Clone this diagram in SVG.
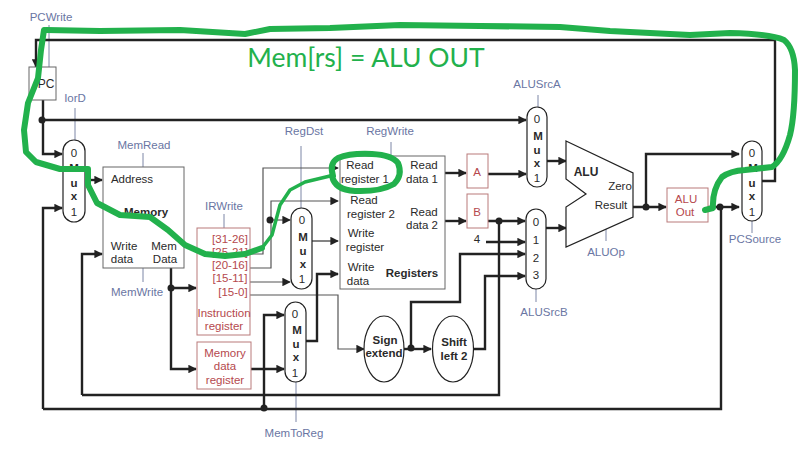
<svg xmlns="http://www.w3.org/2000/svg" width="800" height="457" viewBox="0 0 800 457">
<defs>
<marker id="a" viewBox="0 0 10 10" refX="9" refY="5" markerWidth="9" markerHeight="8.500" markerUnits="userSpaceOnUse" orient="auto"><path d="M0 0L10 5L0 10Z" fill="#222"/></marker>
</defs>
<style>
text{font-family:"Liberation Sans",Arial,sans-serif;font-size:11.5px;fill:#2a2a2a;text-anchor:middle}
.c text,text.c{fill:#6a76a3}
.r text{fill:#b5484d}
.b{font-weight:bold}
.box{fill:#fff;stroke:#666;stroke-width:1}
.rb{fill:#fff;stroke:#b97a7a;stroke-width:1}
.mux{fill:#fff;stroke:#222;stroke-width:1.2}
.m text{font-size:11.5px}
.th{fill:none;stroke:#222;stroke-width:2.4;stroke-linejoin:miter}
.tn{fill:none;stroke:#333;stroke-width:1.2}
.gr{fill:none;stroke:#555;stroke-width:1.2}
.ctl{fill:none;stroke:#7d86a6;stroke-width:1}
.ar{marker-end:url(#a)}
.dot{fill:#222}
.g{fill:none;stroke:#22b14c;stroke-linecap:round;stroke-linejoin:round}
</style>
<rect width="800" height="457" fill="#fff"/>
<g id="connectors">
<path class="ctl" d="M49 25V67M75 108V140M143 153V167M143 268V282M224 214V228M301 146V208M391 142V156M296 382V422M538 95V107M606 228V241M536 289V302M752 221V233"/>
<path class="th ar" d="M762 181H775V40H36V67"/>
<path class="th ar" d="M43 100V154H62"/>
<path class="th ar" d="M43 120H526"/>
<path class="th ar" d="M43 409V208H62"/>
<path class="th" d="M43 409H721V207"/>
<path class="th ar" d="M85 180H102"/>
<path class="th ar" d="M82 395V254H102"/>
<path class="th" d="M82 395H499V221"/>
<path class="th ar" d="M171 268V288H196"/>
<path class="th ar" d="M171 288V369H196"/>
<path class="gr ar" d="M250 254H263V168H338"/>
<path class="gr ar" d="M250 268H271V201H338"/>
<path class="gr ar" d="M271 220H290"/>
<path class="gr ar" d="M250 282H290"/>
<path class="gr ar" d="M250 295H338V349H364"/>
<path class="tn ar" d="M312 241H338"/>
<path class="th ar" d="M306 341H317V274H338"/>
<path class="th ar" d="M251 369H284"/>
<path class="th ar" d="M264 408V315H284"/>
<path class="th ar" d="M445 173H466"/>
<path class="th ar" d="M445 221H466"/>
<path class="th ar" d="M488 174H526"/>
<path class="th ar" d="M488 221H525"/>
<path class="th ar" d="M547 161H566"/>
<path class="th ar" d="M546 228H566"/>
<path class="th ar" d="M486 242H525"/>
<path class="th ar" d="M411 349V302H460V254H525"/>
<path class="th ar" d="M473 349H485V276H525"/>
<path class="th ar" d="M404 349H431"/>
<path class="th ar" d="M633 207H666"/>
<path class="th ar" d="M646 207V154H739"/>
<path class="th ar" d="M708 207H739"/>
<circle class="dot" cx="42" cy="120" r="3.500"/><circle class="dot" cx="171" cy="288" r="3.500"/><circle class="dot" cx="270" cy="220" r="3.500"/><circle class="dot" cx="264" cy="408" r="3.500"/><circle class="dot" cx="411" cy="348" r="3.500"/><circle class="dot" cx="499" cy="221" r="3.500"/><circle class="dot" cx="646" cy="207" r="3.500"/><circle class="dot" cx="720" cy="207" r="3.500"/>
</g>
<g id="pc"><rect class="box" x="29" y="67" width="27" height="33"/><text x="46" y="88" style="font-size:12px">PC</text></g>
<g id="mux-iord" class="m"><rect class="mux" x="63" y="140" width="22" height="82" rx="11"/><text x="74" y="157">0</text><text class="b" x="74" y="172">M</text><text class="b" x="74" y="187">u</text><text class="b" x="74" y="200">x</text><text x="74" y="216">1</text></g>
<g id="memory"><rect class="box" x="103" y="167" width="81" height="101"/><text x="132" y="183">Address</text><text class="b" x="146" y="216">Memory</text><text x="124" y="250">Write</text><text x="122" y="263">data</text><text x="164" y="250">Mem</text><text x="165" y="263">Data</text></g>
<g id="ir" class="r"><rect class="rb" x="197" y="228" width="53" height="107"/><text x="230" y="243">[31-26]</text><text x="230" y="256">[25-21]</text><text x="230" y="269">[20-16]</text><text x="230" y="282">[15-11]</text><text x="233" y="296">[15-0]</text><text x="224" y="317">Instruction</text><text x="224" y="330">register</text></g>
<g id="mdr" class="r"><rect class="rb" x="197" y="342" width="54" height="47"/><text x="225" y="357">Memory</text><text x="225" y="370">data</text><text x="225" y="384">register</text></g>
<g id="mux-regdst" class="m"><rect class="mux" x="291" y="208" width="21" height="81" rx="10.500"/><text x="302" y="224">0</text><text class="b" x="303" y="241">M</text><text class="b" x="303" y="255">u</text><text class="b" x="303" y="268">x</text><text x="302" y="283">1</text></g>
<g id="mux-memtoreg" class="m"><rect class="mux" x="285" y="302" width="21" height="80" rx="10.500"/><text x="295" y="318">0</text><text class="b" x="297" y="334">M</text><text class="b" x="296" y="348">u</text><text class="b" x="296" y="361">x</text><text x="295" y="377">1</text></g>
<g id="registers"><rect class="box" x="340" y="156" width="105" height="133"/><text x="360" y="169">Read</text><text x="365" y="183">register 1</text><text x="364" y="204">Read</text><text x="371" y="218">register 2</text><text x="361" y="237">Write</text><text x="365" y="251">register</text><text x="361" y="271">Write</text><text x="358" y="285">data</text><text class="b" x="412" y="277">Registers</text><text x="424" y="169">Read</text><text x="422" y="183">data 1</text><text x="424" y="216">Read</text><text x="422" y="229">data 2</text></g>
<g id="reg-a" class="r"><rect class="rb" x="467" y="154" width="21" height="34"/><text x="477" y="176">A</text></g>
<g id="reg-b" class="r"><rect class="rb" x="467" y="194" width="21" height="34"/><text x="477" y="216">B</text></g>
<text x="477" y="243">4</text>
<g id="mux-alusrca" class="m"><rect class="mux" x="527" y="107" width="20" height="80" rx="10"/><text x="537" y="123">0</text><text class="b" x="538" y="140">M</text><text class="b" x="537" y="154">u</text><text class="b" x="537" y="167">x</text><text x="537" y="182">1</text></g>
<g id="mux-alusrcb" class="m"><rect class="mux" x="526" y="209" width="20" height="80" rx="10"/><text x="536" y="226">0</text><text x="536" y="244">1</text><text x="536" y="262">2</text><text x="536" y="279">3</text></g>
<g id="alu"><path class="mux" d="M566 141L633 173V217L566 247V207L586 194L566 179Z"/><text class="b" x="586" y="176" style="font-size:12px">ALU</text><text x="620" y="190">Zero</text><text x="611" y="209">Result</text></g>
<g id="aluout" class="r"><rect class="rb" x="667" y="188" width="41" height="34"/><text x="686" y="203">ALU</text><text x="685" y="216">Out</text></g>
<g id="mux-pcsource" class="m"><rect class="mux" x="742" y="141" width="20" height="80" rx="10"/><text x="752" y="157">0</text><text class="b" x="753" y="172">M</text><text class="b" x="752" y="187">u</text><text class="b" x="752" y="200">x</text><text x="752" y="216">1</text></g>
<g id="sign-extend"><ellipse class="mux" cx="384" cy="349" rx="20" ry="33"/><text class="b" x="385" y="344">Sign</text><text class="b" x="384" y="357">extend</text></g>
<g id="shift-left"><ellipse class="mux" cx="453" cy="349" rx="20.500" ry="33"/><text class="b" x="454" y="346">Shift</text><text class="b" x="454" y="360">left 2</text></g>
<g id="control-labels" class="c">
<text x="51" y="21">PCWrite</text><text x="75" y="102">IorD</text><text x="144" y="149">MemRead</text><text x="137" y="296">MemWrite</text><text x="224" y="210">IRWrite</text><text x="304" y="135">RegDst</text><text x="390" y="135">RegWrite</text><text x="537" y="88">ALUSrcA</text><text x="544" y="316">ALUSrcB</text><text x="606" y="256">ALUOp</text><text x="755" y="243">PCSource</text><text x="294" y="437">MemToReg</text>
</g>
<g id="annotation">
<path class="g" stroke-width="6" d="M705 210L713 208Q712 190 722 177Q730 171 745 170L772 167Q783 160 790 135Q795 115 795 70Q794 48 784 40Q770 34 730 33L690 35L650 33L610 31L560 27L480 26L400 25L330 28L270 29L245 34L180 30L100 31L46 30"/>
<path class="g" stroke-width="6" d="M44 30L41 50L38 78L28 103L24 130L26 152L36 162L60 169H88V185L97 203L120 215L150 217L168 230L185 245L205 254L225 256L245 254L262 248"/>
<path class="g" stroke-width="3.500" d="M262 248L272 235L280 205L290 190L305 182L330 176"/>
<path class="g" stroke-width="6" d="M333 176Q329 163 338 158Q350 153 372 154Q392 155 398 163Q403 175 394 184Q380 192 355 191Q335 190 332 176"/>
<text x="366" y="67" style="font-family:Lato,sans-serif;font-size:26.500px;fill:#22b14c">Mem[rs] = ALU OUT</text>
</g>
</svg>
